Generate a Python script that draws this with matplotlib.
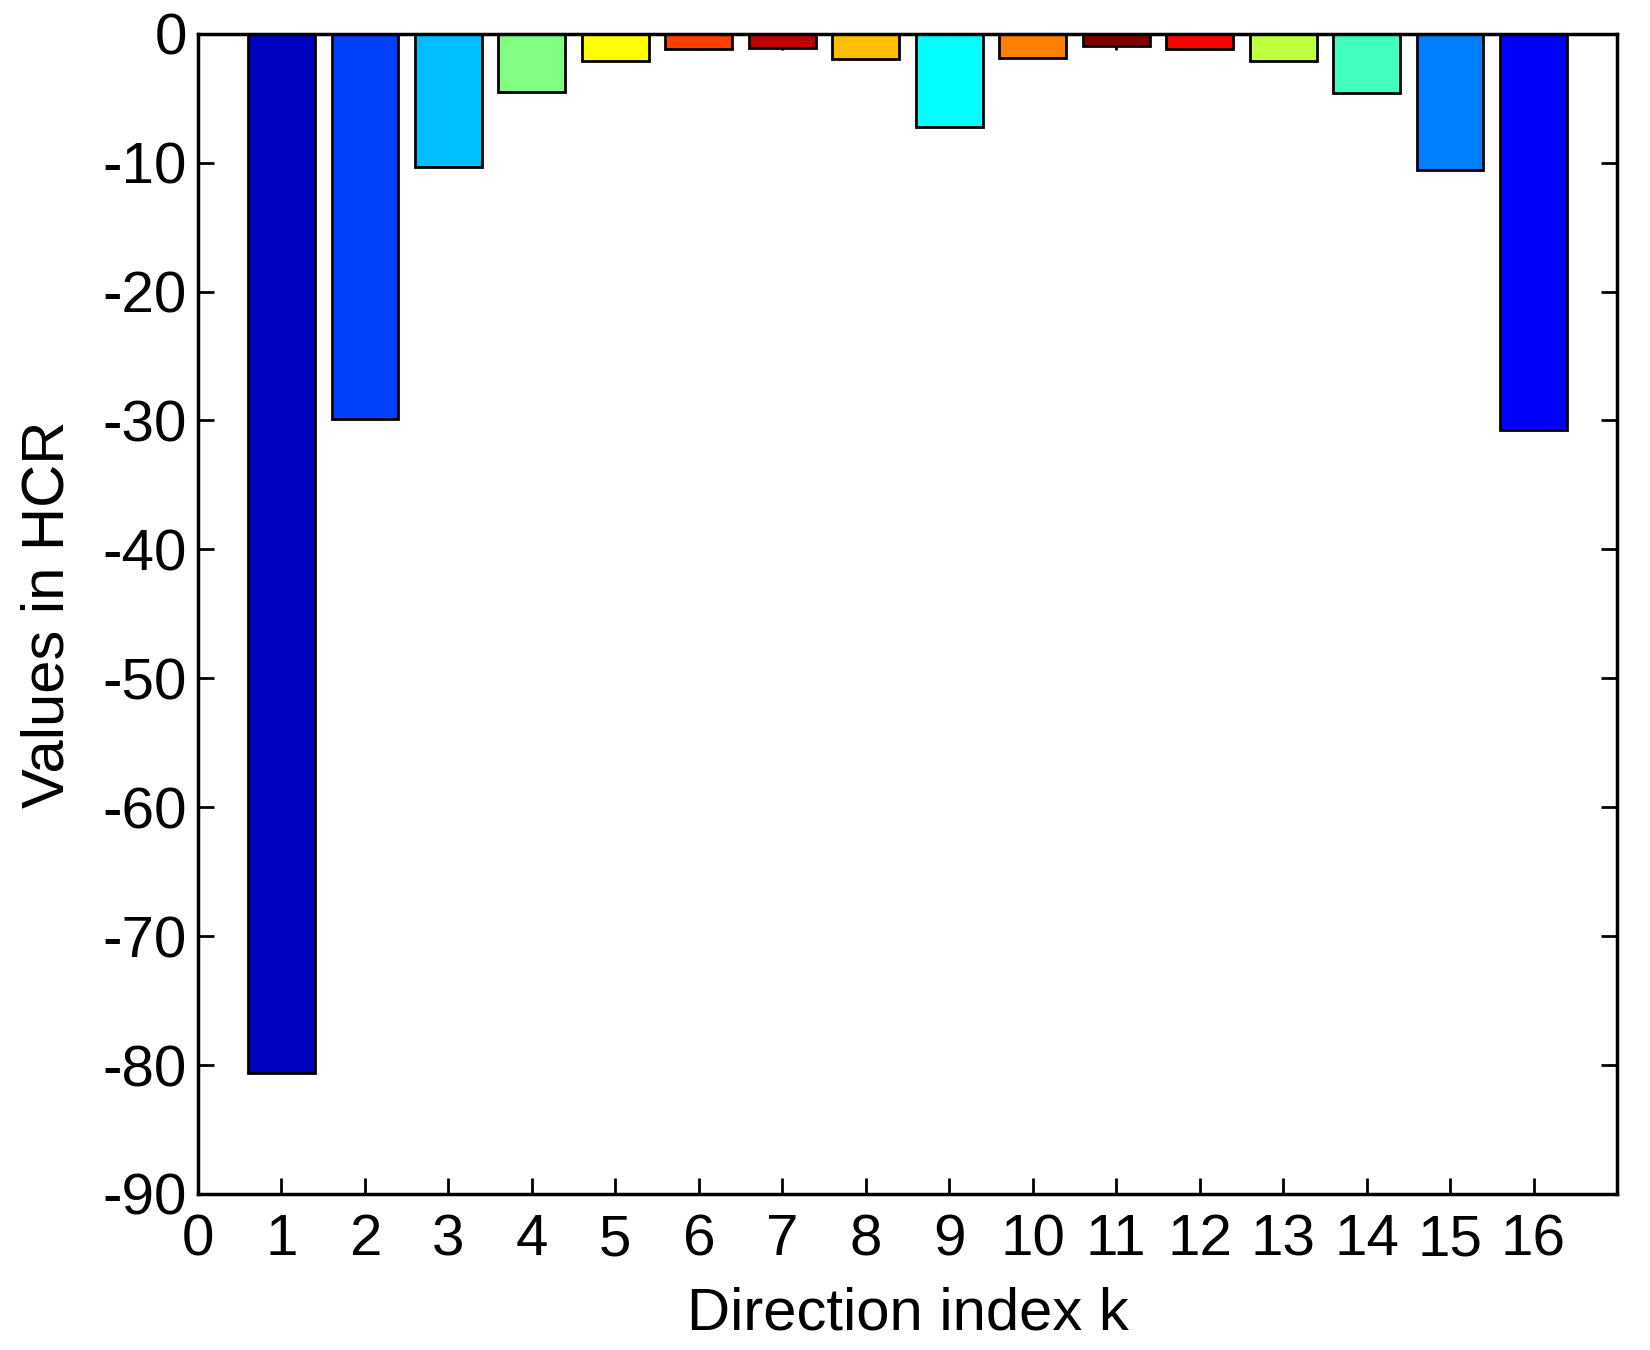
import numpy as np
import matplotlib
matplotlib.use("Agg")
import matplotlib.pyplot as plt

# valeurs
k = list(range(1, 17))
hcr = [-80.6, -29.9, -10.3, -4.5, -2.1, -1.2, -1.1, -1.95,
       -7.2, -1.9, -0.93, -1.15, -2.15, -4.6, -10.6, -30.7]


def jet_matlab(n):
    # reproduit jet(n) de MATLAB
    m = int(np.ceil(n / 4))
    u = np.concatenate([np.arange(1, m + 1) / m, np.ones(m - 1), np.arange(m, 0, -1) / m])
    g = int(np.ceil(m / 2)) - (n % 4 == 1) + np.arange(1, len(u) + 1)
    r = g + m
    b = g - m
    cmap = np.zeros((n, 3))
    for idx, col in ((r, 0), (g, 1), (b, 2)):
        ok = (idx >= 1) & (idx <= n)
        cmap[idx[ok] - 1, col] = u[ok]
    return cmap


# couleur selon le rang de la valeur
rangs = np.argsort(np.argsort(hcr))
couleurs = jet_matlab(len(hcr))[rangs]

plt.rcParams['font.family'] = ['Liberation Sans', 'DejaVu Sans']
plt.rcParams['axes.unicode_minus'] = False

fig = plt.figure(figsize=(16.5, 13.5), dpi=100)
ax = fig.add_axes([0.12, 0.1156, 0.86, 0.8594])
ax.set_axisbelow(True)
ax.bar(k, hcr, width=0.8, color=couleurs, edgecolor='black', linewidth=2)

ax.set_xlim(0, 17)
ax.set_ylim(-90, 0)
ax.set_xticks(range(0, 17))
ax.set_yticks(range(-90, 1, 10))
ax.tick_params(direction='in', length=11.5, width=2, top=True, right=True,
               labelsize=42)
ax.tick_params(axis='x', pad=14)
ax.tick_params(axis='y', pad=8)
for s in ax.spines.values():
    s.set_linewidth(2.5)
ax.set_xlabel('Direction index k', fontsize=43, labelpad=14)
ax.set_ylabel('Values in HCR', fontsize=43, labelpad=19)

fig.savefig('out.png', dpi=100)
